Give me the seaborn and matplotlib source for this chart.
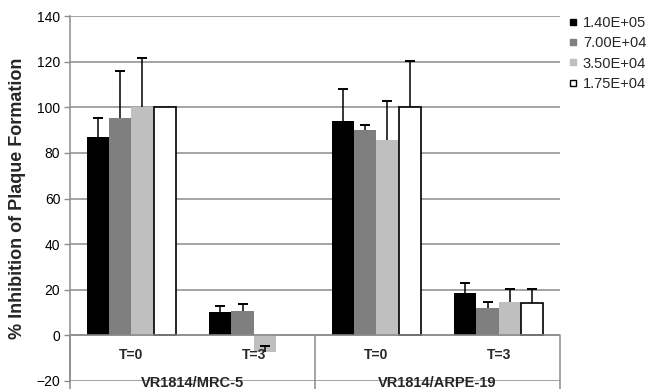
import numpy as np
import pandas as pd
import matplotlib
matplotlib.use('Agg')
import matplotlib.pyplot as plt
from matplotlib.lines import Line2D
import seaborn as sns

# Values
conditions = ['MRC-5 T=0', 'MRC-5 T=3', 'ARPE-19 T=0', 'ARPE-19 T=3']
time_labels = ['T=0', 'T=3', 'T=0', 'T=3']
cell_lines = ['VR1814/MRC-5', 'VR1814/ARPE-19']
concentrations = ['1.40E+05', '7.00E+04', '3.50E+04', '1.75E+04']

inh_140e5 = [86.8, 10.1, 94.0, 18.7]
inh_700e4 = [95.3, 10.7, 89.9, 11.8]
inh_350e4 = [100.1, -7.2, 85.5, 14.8]
inh_175e4 = [100.0, np.nan, 100.0, 14.2]

err_140e5 = [8.5, 2.9, 14.2, 4.2]
err_700e4 = [20.5, 2.9, 2.3, 3.0]
err_350e4 = [21.7, 2.5, 17.4, 5.5]
err_175e4 = [np.nan, np.nan, 20.2, 6.1]

colors = ['#000000', '#7f7f7f', '#bfbfbf', '#ffffff']
grid_col = '#8c8c8c'

# Long-form table for seaborn
rows = []
for conc, vals, errs in zip(concentrations,
                            [inh_140e5, inh_700e4, inh_350e4, inh_175e4],
                            [err_140e5, err_700e4, err_350e4, err_175e4]):
    for cond, v, e in zip(conditions, vals, errs):
        rows.append({'condition': cond, 'conc': conc, 'value': v, 'err': e})
df = pd.DataFrame(rows).dropna(subset=['value'])

sns.set_theme(style='white')
plt.rcParams['font.family'] = ['Liberation Sans', 'DejaVu Sans']

fig = plt.figure(figsize=(6.52, 3.89), dpi=100)
ax = fig.add_axes([70 / 652, 8 / 389, 490 / 652, 365 / 389])

sns.barplot(data=df, x='condition', y='value', hue='conc',
            order=conditions, hue_order=concentrations,
            palette=dict(zip(concentrations, colors)),
            width=0.73, errorbar=None, saturation=1, ax=ax, legend=False)

# bar edges and upper-only error bars
for cont, conc in zip(ax.containers, concentrations):
    sub = df[df['conc'] == conc].set_index('condition').reindex(conditions).dropna(subset=['value'])
    for bar, (_, row) in zip(cont, sub.iterrows()):
        if conc == '1.75E+04':
            bar.set_edgecolor('black')
            bar.set_linewidth(1.2)
        else:
            bar.set_edgecolor('none')
        if not np.isnan(row['err']):
            xc = bar.get_x() + bar.get_width() / 2
            top = row['value'] + row['err']
            ax.vlines(xc, row['value'], top, color='black', linewidth=1.1, zorder=5)
            ax.plot([xc], [top], marker='_', markersize=6.5, markeredgewidth=1.4,
                    color='black', zorder=5)

ax.set_ylim(-20, 140)
ax.set_xlim(-0.5, 3.5)
ax.set_yticks(range(-20, 141, 20))
ax.yaxis.grid(True, color=grid_col, linewidth=1.1)
ax.set_axisbelow(True)
ax.set_xticks([])
ax.set_xlabel('')
for s in ['top', 'right', 'bottom']:
    ax.spines[s].set_visible(False)
ax.spines['left'].set_color(grid_col)
ax.spines['left'].set_linewidth(1.1)
ax.tick_params(axis='y', left=True, direction='out', length=4, width=1,
               color=grid_col, labelsize=10, pad=3, labelcolor='black')

# horizontal category axis at zero
ax.axhline(0, color=grid_col, linewidth=1.1, zorder=1)
for xd in [-0.5, 1.5, 3.5]:
    ax.plot([xd, xd], [0, -26], color=grid_col, linewidth=1.1, clip_on=False)

for i, lab in enumerate(time_labels):
    ax.text(i, -10.2, lab, ha='center', va='baseline', fontsize=10,
            fontweight='bold')
for j, lab in enumerate(cell_lines):
    ax.text(2 * j + 0.5, -22.5, lab, ha='center', va='baseline',
            fontsize=10.5, fontweight='bold', clip_on=False)

ax.set_ylabel('% Inhibition of Plaque Formation', fontsize=13,
              fontweight='bold')
ax.yaxis.set_label_coords(-0.09, 0.5)

handles = [Line2D([], [], linestyle='none', marker='s', markersize=5,
                  markerfacecolor=c, markeredgecolor='black' if c == '#ffffff' else c,
                  markeredgewidth=1)
           for c in colors]
fig.legend(handles, concentrations, loc='upper left',
           bbox_to_anchor=(569 / 652, 1 - 16 / 389), frameon=False,
           fontsize=10.5, handlelength=0.6, handletextpad=0.35,
           labelspacing=0.43, borderpad=0, borderaxespad=0)

fig.savefig('out.png', dpi=100)
